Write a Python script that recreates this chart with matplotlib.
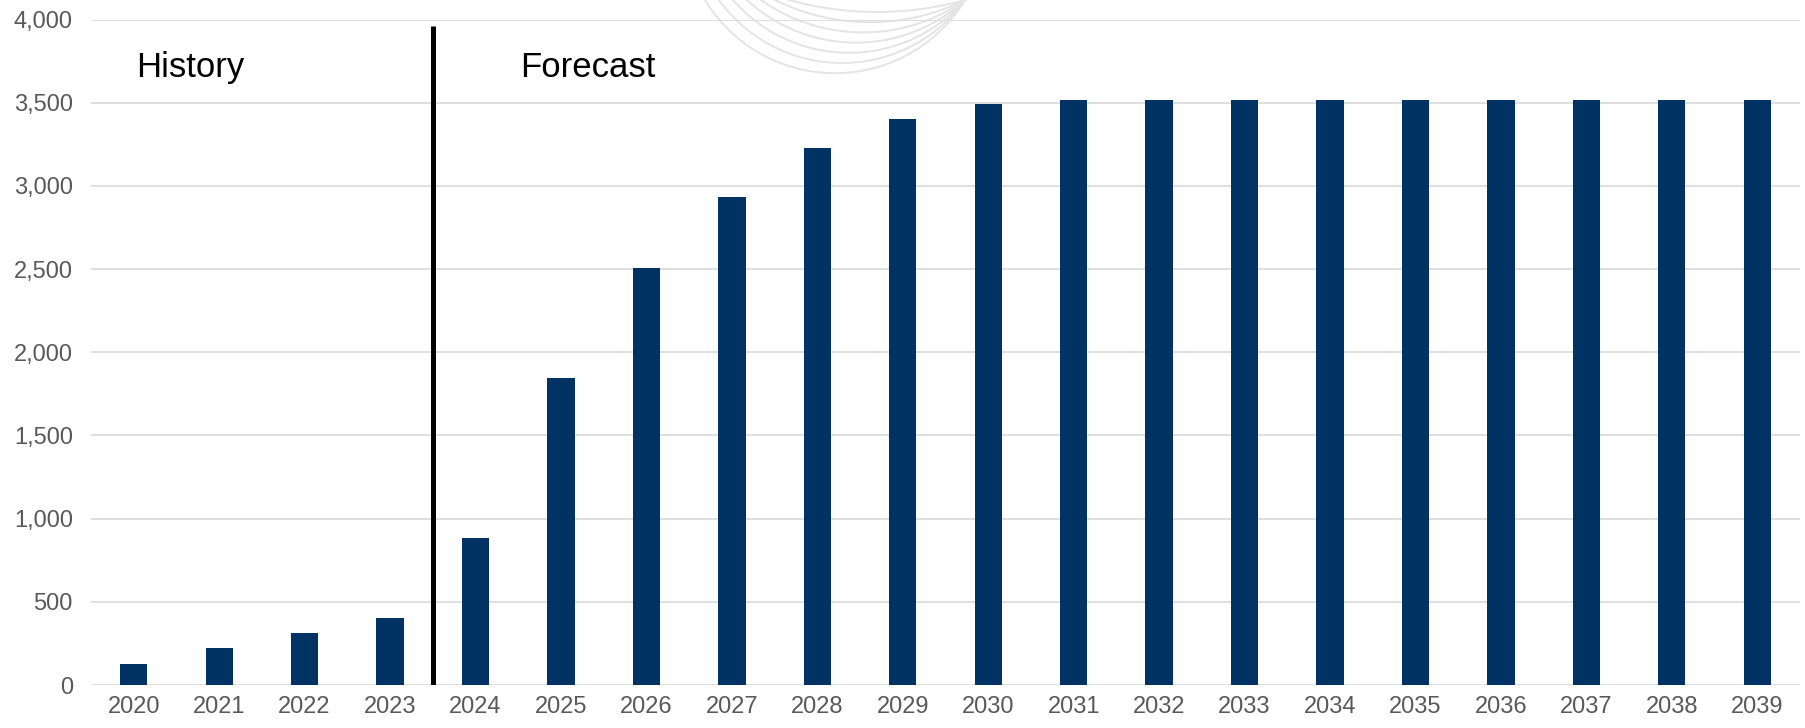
#!/usr/bin/env python3
"""
Annual volume: history (2020-2023) and forecast (2024-2039)
"""

import numpy as np
import matplotlib
matplotlib.use("Agg")
import matplotlib.pyplot as plt
from matplotlib.ticker import FuncFormatter

years = [str(y) for y in range(2020, 2040)]
values = [128, 220, 310, 402,
          885, 1845, 2505, 2931, 3229, 3400, 3490,
          3515, 3515, 3515, 3515, 3515, 3515, 3515, 3515, 3515]
y_ticks = [0, 500, 1000, 1500, 2000, 2500, 3000, 3500, 4000]
split_at = 3.5          # between last history year and first forecast year
split_top = 3960
section_labels = ["History", "Forecast"]

BAR_COLOR = "#003263"
GRID_COLOR = "#dcdcdc"
TICK_COLOR = "#595959"

plt.rcParams['font.family'] = ['Liberation Sans', 'DejaVu Sans']

W, H = 1806, 728
fig = plt.figure(figsize=(W / 100, H / 100), dpi=100)

# faint logo arcs in the background, drawn in pixel space (y grows downwards)
bg = fig.add_axes([0, 0, 1, 1], zorder=0)
bg.set_xlim(0, W)
bg.set_ylim(H, 0)
bg.axis("off")
t = np.linspace(0, np.pi, 800)
for i in range(7):
    yb = 12 + 10.2 * i
    half = 88 + 7 * i
    cx = 965 - half
    r = (half ** 2 + yb ** 2) / (2 * yb)
    cy = yb - r
    xs = cx + r * np.cos(t)
    ys = cy + r * np.sin(t)
    keep = ys >= -2
    bg.plot(xs[keep], ys[keep], color="#e4e4e4", lw=1.4)

ax = fig.add_axes([91 / W, 1 - 685 / H, (1800 - 91) / W, (685 - 19.5) / H], zorder=1)
ax.patch.set_alpha(0)

x = np.arange(len(years))
ax.bar(x, values, width=0.32, color=BAR_COLOR, zorder=3)

ax.set_xlim(-0.5, len(years) - 0.5)
ax.set_ylim(0, 4000)
ax.set_yticks(y_ticks)
ax.yaxis.set_major_formatter(FuncFormatter(lambda v, _: f"{int(v):,}"))
ax.set_xticks(x)
ax.set_xticklabels(years)

ax.yaxis.grid(True, color=GRID_COLOR, lw=1.3, zorder=1)
ax.set_axisbelow(True)
for s in ax.spines.values():
    s.set_visible(False)
ax.tick_params(axis="both", length=0, labelsize=17, labelcolor=TICK_COLOR)
ax.tick_params(axis="y", pad=13)
ax.tick_params(axis="x", pad=8)

# history / forecast divider
ax.vlines(split_at, 0, split_top, color="black", lw=3.6, zorder=4)
ax.text(0.03, 3714, section_labels[0], fontsize=25, va="center", ha="left")
ax.text(4.52, 3714, section_labels[1], fontsize=25, va="center", ha="left")

plt.savefig("out.png", dpi=100)
plt.close()
